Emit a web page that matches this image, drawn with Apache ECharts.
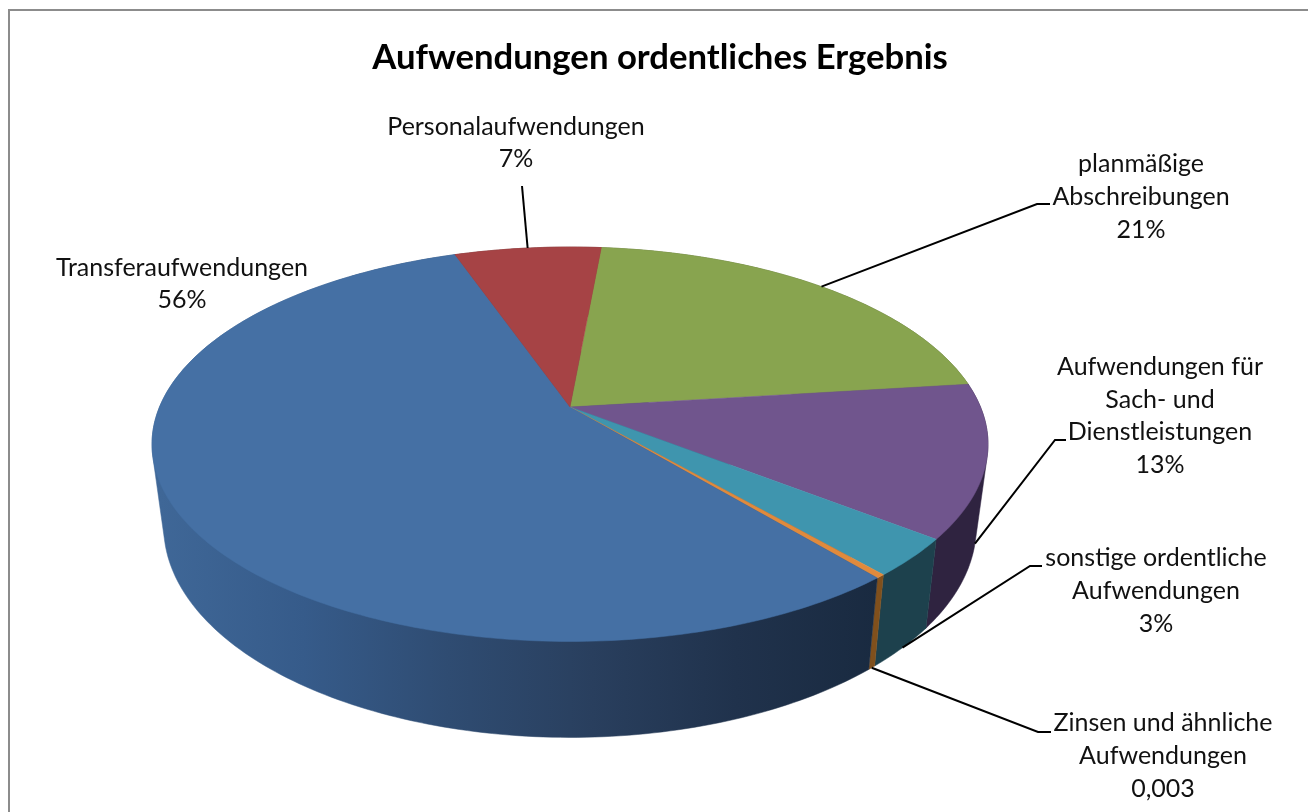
<!DOCTYPE html>
<html><head><meta charset="utf-8">
<style>html,body{margin:0;padding:0;background:#fff}#c{width:1308px;height:812px}</style>
<script src="https://cdn.jsdelivr.net/npm/echarts@6/dist/echarts.min.js"></script>
</head><body><div id="c"></div>
<script>
const titleText = 'Aufwendungen ordentliches Ergebnis';
const categories = ['planmäßige\nAbschreibungen','Aufwendungen für\nSach- und\nDienstleistungen','sonstige ordentliche\nAufwendungen','Zinsen und ähnliche\nAufwendungen','Transferaufwendungen','Personalaufwendungen'];
const shares = [21.6, 12.5, 3.1, 0.3, 55.7, 6.8];
const valueLabels = ['21%','13%','3%','0,003','56%','7%'];
const topColors = ['#88A44F','#70558D','#3F95AE','#E08A3C','#4570A4','#A64345'];
const wallColors = ['#55662f','#2f2340','#1d414d','#80501c','#3f6797','#672a2b'];

// geometry of the perspective disc
const G = {cx:570, cy:407, R:410.5, S:190.2, k:0.1888, depth:96, xShrink:0.972, ySkew:0.07, bottomY:642, start:5.2};
const topPt = a => { const r=a*Math.PI/180,u=Math.sin(r),v=Math.cos(r),w=1+G.k*v; return [G.cx+G.R*u/w, G.cy-G.S*v/w]; };
const botPt = a => { const p=topPt(a); return [G.cx+(p[0]-G.cx)*G.xShrink, p[1]+G.depth-(G.bottomY-p[1])*G.ySkew]; };
const total = shares.reduce((s,v)=>s+v,0);
const arc = (a0,a1,f) => { const n=Math.max(2,Math.ceil(a1-a0)),o=[]; for(let i=0;i<=n;i++) o.push(f(a0+(a1-a0)*i/n)); return o; };
const angles = idx => { let a=G.start; for(let i=0;i<idx;i++) a+=shares[i]/total*360; return [a,a+shares[idx]/total*360]; };
// the wall of a slice is the outline around its upper and lower rim, the top face then covers the inner part
const hull = pts => {
  const s=pts.slice().sort((a,b)=>a[0]-b[0]||a[1]-b[1]);
  const cross=(o,a,b)=>(a[0]-o[0])*(b[1]-o[1])-(a[1]-o[1])*(b[0]-o[0]);
  const half=list=>{const h=[];for(const p of list){while(h.length>=2&&cross(h[h.length-2],h[h.length-1],p)<=0)h.pop();h.push(p);}h.pop();return h;};
  return half(s).concat(half(s.slice().reverse()));
};

// label layout: centre of the text block, leader elbow and stub end
const layout = [
 {x:1141,y:197,elbow:[1037,204],end:[1050,204],from:'top'},
 {x:1160,y:416,elbow:[1055,440],end:[1066,440],from:'bot'},
 {x:1156,y:591,elbow:[1030,566],end:[1042,566],from:'bot'},
 {x:1163,y:756,elbow:[1038,732],end:[1051,732],from:'bot'},
 {x:182,y:284,from:null},
 {x:516,y:143,elbow:null,end:[522,186],from:'top'}
];
const FONT='Lato';
const seriesData = categories.map((c,i)=>({name:c,value:[i,shares[i]]}));

const chart = echarts.init(document.getElementById('c'),null,{renderer:'canvas'});
chart.setOption({
 backgroundColor:'#fff',
 animation:false,
 title:{text:titleText,left:655,top:35,textAlign:'center',textStyle:{fontFamily:FONT,fontWeight:'bold',fontSize:34.7,color:'#000'}},
 graphic:[{type:'rect',shape:{x:9,y:10,width:1320,height:830},style:{fill:'none',stroke:'#8c8c8c',lineWidth:2},silent:true}],
 series:[
  {type:'custom',coordinateSystem:'none',data:seriesData,z:1,renderItem:(p,api)=>{
    const i=api.value(0),[a0,a1]=angles(i);
    const pts=hull(arc(a0,a1,topPt).concat(arc(a0,a1,botPt)));
    let fill=wallColors[i];
    if(i===4) fill={type:'linear',global:true,x:160,y:0,x2:880,y2:0,colorStops:[
      {offset:0,color:'#3f6797'},{offset:0.2,color:'#365b8a'},{offset:0.4,color:'#2f4c72'},
      {offset:0.6,color:'#293f5e'},{offset:0.8,color:'#20324c'},{offset:1,color:'#192a40'}]};
    return {type:'polygon',shape:{points:pts},style:{fill,stroke:fill,lineWidth:0.5}};
  }},
  {type:'custom',coordinateSystem:'none',data:seriesData,z:2,renderItem:(p,api)=>{
    const i=api.value(0),[a0,a1]=angles(i);
    const pts=[[G.cx,G.cy]].concat(arc(a0,a1,topPt));
    return {type:'polygon',shape:{points:pts},style:{fill:topColors[i],stroke:topColors[i],lineWidth:0.5}};
  }},
  {type:'custom',coordinateSystem:'none',data:seriesData,z:3,renderItem:(p,api)=>{
    const i=api.value(0),[a0,a1]=angles(i),L=layout[i],mid=(a0+a1)/2,ch=[];
    if(L.from){
      const s=(L.from==='top'?topPt:botPt)(mid);
      const pts=[s]; if(L.elbow) pts.push(L.elbow); pts.push(L.end);
      ch.push({type:'polyline',shape:{points:pts},style:{fill:'none',stroke:'#000',lineWidth:2}});
    }
    ch.push({type:'text',style:{text:categories[i]+'\n'+valueLabels[i],x:L.x,y:L.y,align:'center',verticalAlign:'middle',
      font:'25px '+FONT,lineHeight:32.6,fill:'#111'}});
    return {type:'group',children:ch};
  }}
 ]
});
</script></body></html>
